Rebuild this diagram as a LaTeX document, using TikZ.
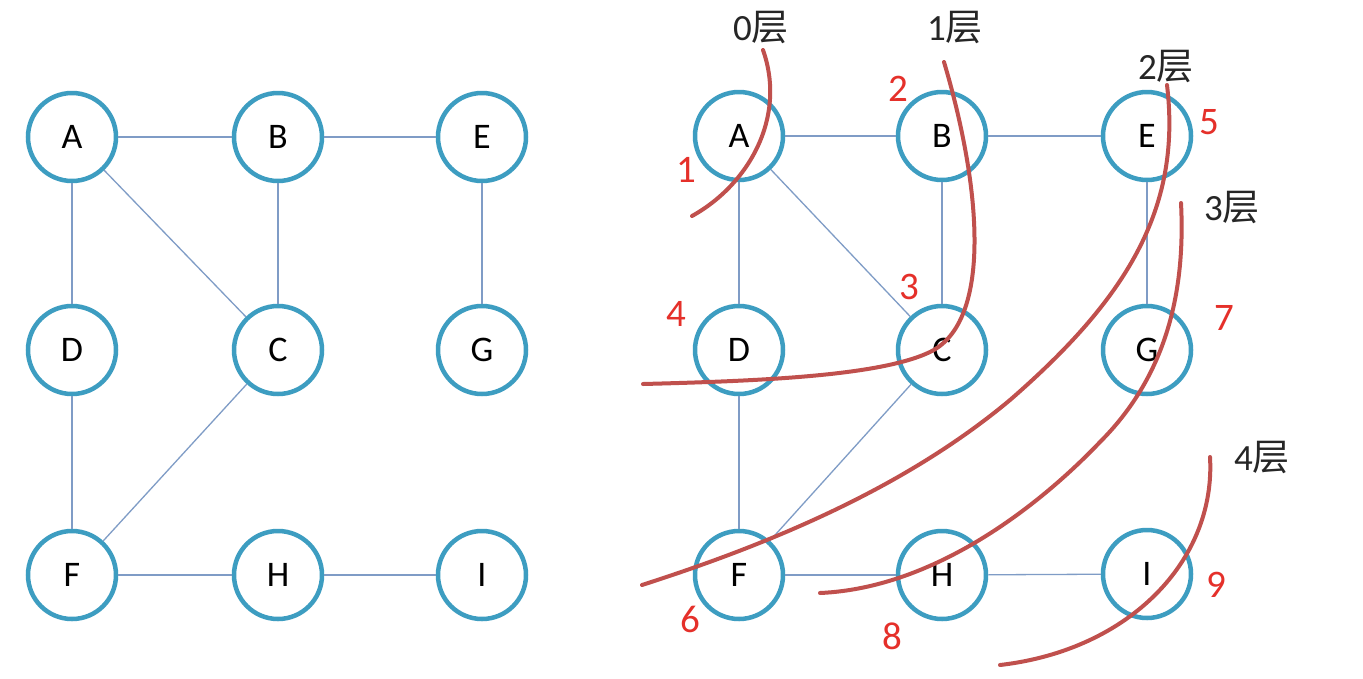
\documentclass[tikz,border=0pt]{standalone}
\usepackage{fontspec}
\setmainfont{Carlito}
\newfontfamily\cjk{Noto Sans CJK SC}
\begin{document}
\begin{tikzpicture}[x=1pt,y=-1pt,
  vertex/.style={circle,draw=vtxblue,line width=4.5pt,fill=white,minimum size=88pt,inner sep=0pt,
    font=\fontsize{36}{40}\selectfont},
  edge/.style={draw=edgeblue,line width=1.3pt},
  layercut/.style={draw=cutred,line width=4pt,line cap=round},
  order/.style={text=numred,font=\fontsize{39}{42}\selectfont,inner sep=0pt},
  layer/.style={text=black!85,font=\fontsize{37}{40}\selectfont,inner sep=0pt}]
\definecolor{vtxblue}{HTML}{3D9DC1}
\definecolor{edgeblue}{HTML}{7F9CC6}
\definecolor{cutred}{HTML}{C0504D}
\definecolor{numred}{HTML}{E5302A}
\useasboundingbox[fill=white] (0,0) rectangle (1363,678);

% ---- left graph ----
\node[vertex] (lA) at (72,137) {A};
\node[vertex] (lB) at (278,137) {B};
\node[vertex] (lE) at (482,137) {E};
\node[vertex] (lD) at (72,350) {D};
\node[vertex] (lC) at (278,350) {C};
\node[vertex] (lG) at (482,350) {G};
\node[vertex] (lF) at (72,575) {F};
\node[vertex] (lH) at (278,575) {H};
\node[vertex] (lI) at (482,575) {I};
\foreach \u/\v in {A/B,B/E,A/D,A/C,B/C,E/G,D/F,C/F,F/H,H/I}
  \draw[edge] (l\u) -- (l\v);

% ---- right graph ----
\node[vertex] (rA) at (739,136) {A};
\node[vertex] (rB) at (942,136) {B};
\node[vertex] (rE) at (1147,136) {E};
\node[vertex] (rD) at (739,350) {D};
\node[vertex] (rC) at (942,350) {C};
\node[vertex] (rG) at (1147,350) {G};
\node[vertex] (rF) at (739,575) {F};
\node[vertex] (rH) at (942,575) {H};
\node[vertex] (rI) at (1147,574) {I};
\foreach \u/\v in {A/B,B/E,A/D,A/C,B/C,E/G,D/F,C/F,F/H,H/I}
  \draw[edge] (r\u) -- (r\v);

% ---- layer boundaries ----
\draw[layercut] (763,50) .. controls (787,118) and (748,185) .. (692,216);
\draw[layercut] (944,62) .. controls (982,190) and (992,322) .. (930,352)
                 .. controls (880,376) and (760,381) .. (643,384);
\draw[layercut] (1167,85) .. controls (1182,210) and (1125,300) .. (1010,400)
                 .. controls (900,492) and (760,547) .. (642,585);
\draw[layercut] (1181,203) .. controls (1186,300) and (1162,380) .. (1100,442)
                 .. controls (1040,505) and (935,588) .. (820,593);
\draw[layercut] (1210,457) .. controls (1216,560) and (1130,650) .. (1000,665);

% ---- layer captions ----
\node[layer] (L0) at (761,27) {0{\cjk 层}};
\node[layer] (L1) at (955,27) {1{\cjk 层}};
\node[layer] (L2) at (1166,66) {2{\cjk 层}};
\node[layer] (L3) at (1232,207) {3{\cjk 层}};
\node[layer] (L4) at (1262,457) {4{\cjk 层}};

% ---- visiting order ----
\node[order] (n1) at (686,170) {1};
\node[order] (n2) at (898,89) {2};
\node[order] (n3) at (909,287) {3};
\node[order] (n4) at (676,314) {4};
\node[order] (n5) at (1209,122) {5};
\node[order] (n6) at (690,619) {6};
\node[order] (n7) at (1224,318) {7};
\node[order] (n8) at (892,636) {8};
\node[order] (n9) at (1216,585) {9};
\end{tikzpicture}
\end{document}
